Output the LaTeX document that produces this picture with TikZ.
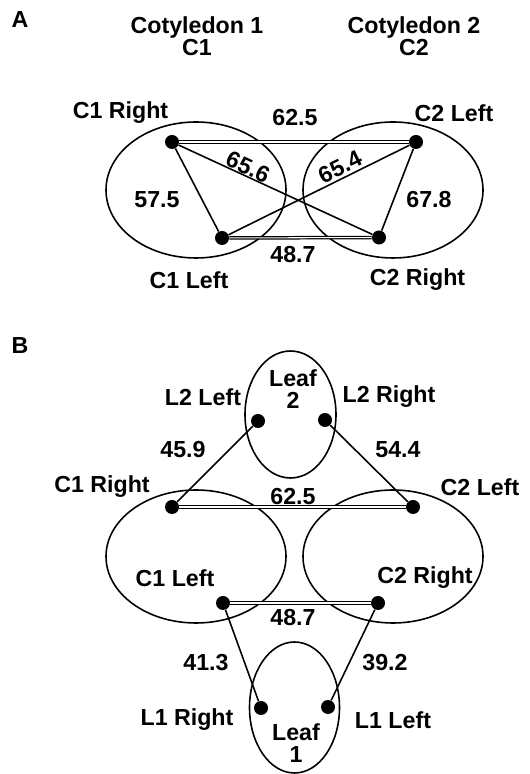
\documentclass[tikz,border=0pt]{standalone}
\usepackage{fontspec}
\setmainfont{Liberation Sans}
\usetikzlibrary{shapes.geometric}
\begin{document}
\begin{tikzpicture}[
  every node/.style={font=\fontsize{13.2}{12.6}\selectfont\bfseries, align=center},
  dot/.style={circle, fill, inner sep=0pt, minimum size=0.28cm},
  organ/.style={ellipse, draw, line width=0.9pt, inner sep=0pt},
  link/.style={line width=0.9pt},
  pair/.style={line width=0.7pt, double, double distance=0.6pt}
]
\useasboundingbox (0, 0) rectangle (10.6, 15.48);
\node at (0.4, 15.08) (panelA) {A};
\node at (3.94, 14.76) (cotone) {Cotyledon 1\\C1};
\node at (8.28, 14.76) (cottwo) {Cotyledon 2\\C2};
\node[organ, minimum width=3.6cm, minimum height=2.72cm] at (3.92, 11.68) (aone) {};
\node[organ, minimum width=3.6cm, minimum height=2.72cm] at (7.86, 11.68) (atwo) {};
\node[dot] at (3.44, 12.64) (aonr) {};
\node[dot] at (8.32, 12.64) (atwl) {};
\node[dot] at (4.44, 10.72) (aonl) {};
\node[dot] at (7.58, 10.73) (atwr) {};
\draw[pair] (aonr) -- (atwl);
\draw[pair] (aonl) -- (atwr);
\draw[link] (aonr) -- (aonl);
\draw[link] (atwl) -- (atwr);
\draw[link] (aonr) -- (atwr);
\draw[link] (aonl) -- (atwl);
\node at (2.41, 13.22) (aonrlab) {C1 Right};
\node at (9.08, 13.22) (atwllab) {C2 Left};
\node at (3.78, 9.88) (aonllab) {C1 Left};
\node at (8.35, 9.88) (atwrlab) {C2 Right};
\node at (5.9, 13.12) (atop) {62.5};
\node at (5.86, 10.38) (abot) {48.7};
\node at (3.14, 11.48) (aleft) {57.5};
\node at (8.58, 11.48) (aright) {67.8};
\node[rotate=-25] at (4.96, 12.14) (adown) {65.6};
\node[rotate=26] at (6.8, 12.14) (aup) {65.4};

\node at (0.4, 8.56) (panelB) {B};
\node[organ, minimum width=1.82cm, minimum height=2.54cm] at (5.81, 7.19) (leaftwo) {};
\node[organ, minimum width=3.6cm, minimum height=2.66cm] at (3.92, 4.35) (bone) {};
\node[organ, minimum width=3.6cm, minimum height=2.66cm] at (7.86, 4.35) (btwo) {};
\node[organ, minimum width=1.8cm, minimum height=2.62cm] at (5.89, 1.33) (leafone) {};
\node at (5.86, 7.69) (leaftwolab) {Leaf\\2};
\node at (5.92, 0.61) (leafonelab) {Leaf\\1};
\node[dot] at (5.16, 7.06) (ltwl) {};
\node[dot] at (6.5, 7.08) (ltwr) {};
\node[dot] at (3.44, 5.34) (bonr) {};
\node[dot] at (8.26, 5.34) (btwl) {};
\node[dot] at (4.46, 3.42) (bonl) {};
\node[dot] at (7.56, 3.42) (btwr) {};
\node[dot] at (5.22, 1.32) (lonr) {};
\node[dot] at (6.56, 1.34) (lonl) {};
\draw[pair] (bonr) -- (btwl);
\draw[pair] (bonl) -- (btwr);
\draw[link] (ltwl) -- (bonr);
\draw[link] (ltwr) -- (btwl);
\draw[link] (bonl) -- (lonr);
\draw[link] (btwr) -- (lonl);
\node at (4.06, 7.54) (ltwllab) {L2 Left};
\node at (7.78, 7.54) (ltwrlab) {L2 Right};
\node at (2.04, 5.74) (bonrlab) {C1 Right};
\node at (9.6, 5.74) (btwllab) {C2 Left};
\node at (3.5, 3.92) (bonllab) {C1 Left};
\node at (8.5, 3.92) (btwrlab) {C2 Right};
\node at (3.74, 1.08) (lonrlab) {L1 Right};
\node at (7.86, 1.08) (lonllab) {L1 Left};
\node at (3.66, 6.48) (bupleft) {45.9};
\node at (7.96, 6.48) (bupright) {54.4};
\node at (5.86, 5.54) (btop) {62.5};
\node at (5.86, 3.12) (bbot) {48.7};
\node at (4.12, 2.22) (bdownleft) {41.3};
\node at (7.7, 2.22) (bdownright) {39.2};
\end{tikzpicture}
\end{document}
